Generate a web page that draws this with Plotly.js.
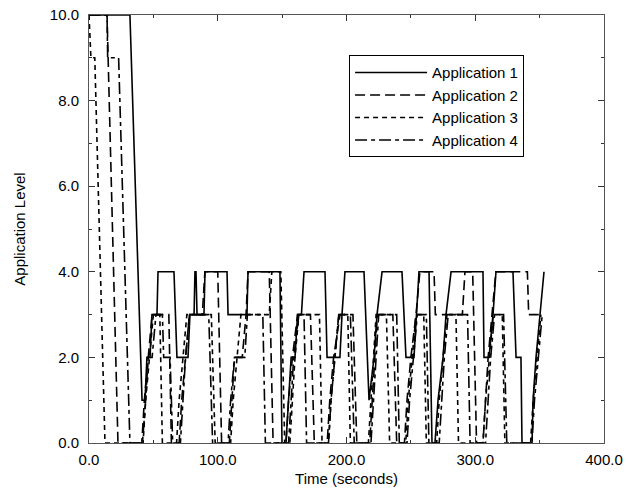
<!DOCTYPE html>
<html>
<head>
<meta charset="utf-8">
<script src="https://cdn.plot.ly/plotly-3.0.1.min.js"></script>
<style>html,body{margin:0;padding:0;background:#fff;}#chart{width:628px;height:492px;}</style>
</head>
<body>
<div id="chart"></div>
<script>
// Application 1 (solid)
const app1Time = [0, 31.8, 41.2, 43.5, 45.0, 47.4, 48.9, 52.8, 53.6, 66.0, 68.3, 76.9, 78.4, 81.6, 82.3, 83.1, 83.9, 89.3, 90.1, 107.2, 108.0, 122.7, 123.5, 148.3, 149.9, 153.0, 155.0, 157.0, 160.0, 162.0, 165.0, 167.0, 183.3, 184.9, 194.9, 196.5, 198.8, 213.6, 217.5, 221.4, 223.7, 227.6, 243.1, 246.2, 252.4, 256.3, 264.1, 266.4, 268.7, 271.1, 275.0, 277.3, 281.2, 306.0, 306.8, 310.7, 313.8, 316.1, 329.3, 331.7, 335.5, 336.3, 344.1, 344.9, 347.2, 350.3, 353.4];
const app1Level = [10, 10, 1, 1, 2, 2, 3, 3, 4, 4, 2, 2, 3, 3, 4, 4, 3, 3, 4, 4, 3, 3, 4, 4, 0, 0, 1, 2, 2, 3, 3, 4, 4, 2, 2, 3, 4, 4, 1, 2, 3, 4, 4, 2, 2, 4, 4, 0, 0, 1, 2, 3, 4, 4, 2, 2, 3, 4, 4, 2, 2, 0, 0, 1, 2, 3, 4];

// Application 2 (long dash)
const app2Time = [0, 14, 22.5, 41, 43, 46, 49, 62, 64, 70, 72, 75, 78, 88, 90, 100, 103, 109, 111, 113, 119, 122, 123.5, 140, 143, 153, 155, 158, 162, 172, 175, 185, 187, 190, 195, 205, 208, 218, 220, 222, 224, 236, 239, 245, 247, 250, 254, 257, 268, 269, 290, 292, 298, 301, 306, 308, 310, 313, 316, 340.5, 341.5, 352];
const app2Level = [10, 10, 0, 0, 1, 2, 3, 3, 0, 0, 1, 2, 3, 3, 4, 4, 0, 0, 1, 2, 2, 3, 4, 4, 0, 0, 1, 2, 3, 3, 0, 0, 1, 2, 3, 3, 0, 0, 1, 2, 3, 3, 0, 0, 1, 2, 3, 4, 4, 3, 3, 4, 4, 0, 0, 1, 2, 3, 4, 4, 3, 3];

// Application 3 (short dash)
const app3Time = [0, 1.5, 4.5, 12.4, 42, 44, 47, 50, 55, 57, 68, 70, 73, 76, 95, 98, 110, 112, 115, 118, 140, 142, 149, 152, 156, 158, 160, 163, 179, 181, 186, 188, 191, 194, 201, 203, 217, 219, 221, 223, 231, 233.5, 246, 248, 251, 254, 260, 262, 270, 272, 275, 278, 285, 287, 306, 308, 311, 314, 321, 323, 343, 345, 348, 351];
const app3Level = [10, 9, 9, 0, 0, 1, 2, 3, 3, 0, 0, 1, 2, 3, 3, 0, 0, 1, 2, 3, 3, 4, 4, 0, 0, 1, 2, 3, 3, 0, 0, 1, 2, 3, 3, 0, 0, 1, 2, 3, 3, 0, 0, 1, 2, 3, 3, 0, 0, 1, 2, 3, 3, 0, 0, 1, 2, 3, 3, 0, 0, 1, 2, 3];

// Application 4 (dash-dot)
const app4Time = [0, 14, 14.5, 23, 31.8, 41.5, 44, 46, 49, 52, 57, 58, 63, 65, 71, 73, 75, 78, 93, 96, 108, 110, 113, 121, 123, 135, 137, 155, 157, 159, 163, 167, 169, 186, 188, 191, 194, 203, 206, 219, 221, 223, 225, 239, 241, 247, 249, 252, 255, 262, 264, 272, 274, 276, 279, 294, 296, 308, 310, 312, 315, 322, 324.5, 344, 346, 349, 352];
const app4Level = [10, 10, 9, 9, 0, 0, 1, 2, 2, 3, 3, 2, 2, 0, 0, 1, 2, 3, 3, 0, 0, 1, 2, 2, 3, 3, 0, 0, 1, 2, 3, 3, 0, 0, 1, 2, 3, 3, 0, 0, 1, 2, 3, 3, 0, 0, 1, 2, 3, 3, 0, 0, 1, 2, 3, 3, 0, 0, 1, 2, 3, 3, 0, 0, 1, 2, 3];

const seriesNames = ["Application 1", "Application 2", "Application 3", "Application 4"];
const xTickVals = [0, 100, 200, 300, 400];
const xTickText = ["0.0", "100.0", "200.0", "300.0", "400.0"];
const yTickVals = [0, 2, 4, 6, 8, 10];
const yTickText = ["0.0", "2.0", "4.0", "6.0", "8.0", "10.0"];

const times = [app1Time, app2Time, app3Time, app4Time];
const levels = [app1Level, app2Level, app3Level, app4Level];
const dashes = ["solid", "10px,5px", "5px,4px", "12px,4px,4px,4px"];

const traces = seriesNames.map((n, i) => ({
  type: "scatter", mode: "lines", name: n,
  x: times[i], y: levels[i],
  line: {color: "#000", width: 1.6, dash: dashes[i]}
}));

const FONT = "Liberation Sans, Arial, sans-serif";
const axisCommon = {
  showgrid: false, zeroline: false, showline: true, linecolor: "#555", linewidth: 1,
  mirror: "allticks", ticks: "inside", ticklen: 6, tickcolor: "#333",
  tickfont: {family: FONT, size: 15, color: "#000"}
};

const layout = {
  width: 628, height: 492,
  margin: {l: 89, r: 24, t: 15, b: 49},
  paper_bgcolor: "#fff", plot_bgcolor: "#fff",
  font: {family: FONT, size: 15, color: "#000"},
  showlegend: true,
  legend: {x: 0.505, y: 0.906, xanchor: "left", yanchor: "top",
    bgcolor: "#fff", bordercolor: "#000", borderwidth: 1,
    font: {family: FONT, size: 15}, tracegroupgap: 0, itemwidth: 72},
  xaxis: Object.assign({}, axisCommon, {
    range: [0, 400], tickvals: xTickVals, ticktext: xTickText, ticklabelstandoff: 3,
    minor: {tickvals: [50, 150, 250, 350], ticks: "inside", ticklen: 3, tickcolor: "#333"},
    title: {text: "Time (seconds)", font: {family: FONT, size: 15}, standoff: 6}
  }),
  yaxis: Object.assign({}, axisCommon, {
    range: [0, 10], tickvals: yTickVals, ticktext: yTickText, ticklabelstandoff: 6,
    minor: {tickvals: [1, 3, 5, 7, 9], ticks: "inside", ticklen: 3, tickcolor: "#333"},
    title: {text: "Application Level", font: {family: FONT, size: 15}, standoff: 20}
  })
};

Plotly.newPlot("chart", traces, layout, {displayModeBar: false, staticPlot: true});
</script>
</body>
</html>
